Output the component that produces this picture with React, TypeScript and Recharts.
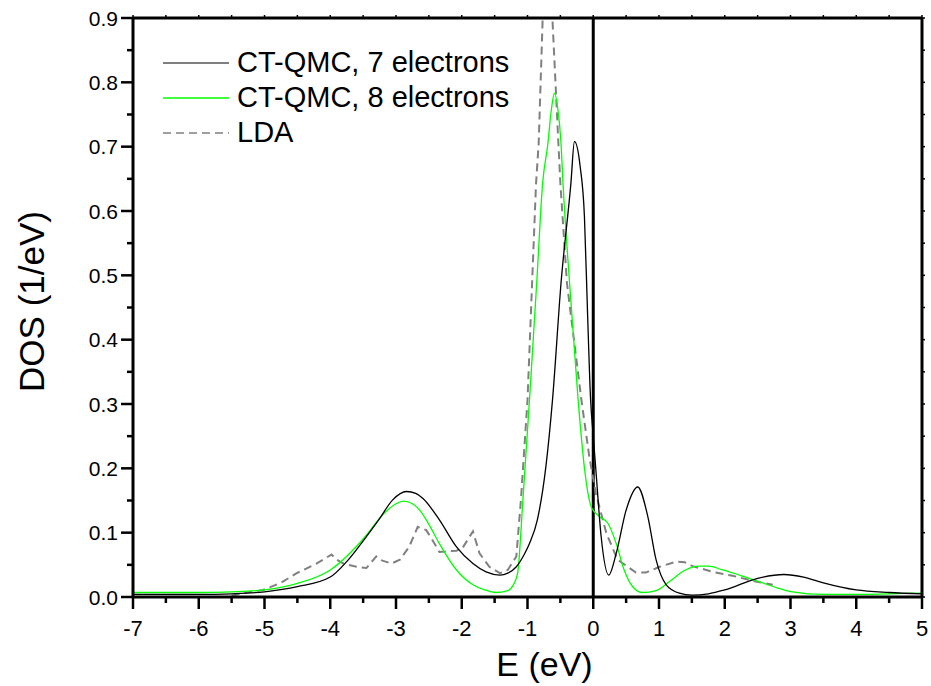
import { LineChart, Line, XAxis, YAxis, ReferenceLine, Legend } from "recharts";

// CT-QMC, 7 electrons
const e7 = [
  -7, -6, -5.5, -5, -4.5, -4, -3.75, -3.45, -3.25, -3.05,
  -2.84, -2.7, -2.59, -2.34, -2.08, -1.83, -1.63, -1.42, -1.3, -1.17,
  -1.05, -0.97, -0.85, -0.72, -0.62, -0.49, -0.34, -0.286, -0.2, -0.134,
  -0.085, -0.04, 0, 0.04, 0.12, 0.236, 0.35, 0.5, 0.677, 0.83,
  0.955, 1.11, 1.31, 1.5, 1.75, 2, 2.5, 2.9, 3.2, 3.5,
  4, 4.5, 5,
];
const dos7 = [
  0.004, 0.004, 0.005, 0.008, 0.016, 0.031, 0.055, 0.094, 0.122, 0.151,
  0.164, 0.161, 0.153, 0.12, 0.078, 0.052, 0.039, 0.034, 0.037, 0.047,
  0.066, 0.083, 0.12, 0.203, 0.306, 0.488, 0.643, 0.708, 0.67, 0.591,
  0.436, 0.306, 0.25, 0.197, 0.094, 0.034, 0.068, 0.135, 0.171, 0.125,
  0.058, 0.019, 0.006, 0.003, 0.005, 0.011, 0.029, 0.035, 0.031, 0.022,
  0.011, 0.007, 0.005,
];

// CT-QMC, 8 electrons
const e8 = [
  -7, -6, -5.5, -5, -4.5, -4, -3.45, -3.2, -3, -2.89,
  -2.75, -2.64, -2.5, -2.34, -2.08, -1.83, -1.65, -1.48, -1.3, -1.22,
  -1.15, -1.07, -0.97, -0.86, -0.77, -0.69, -0.64, -0.59, -0.54, -0.49,
  -0.46, -0.36, -0.23, -0.13, -0.03, 0.094, 0.22, 0.35, 0.47, 0.6,
  0.75, 0.955, 1.16, 1.4, 1.6, 1.75, 1.97, 2.37, 2.52, 2.8,
  3.03, 3.5, 4, 4.5, 5,
];
const dos8 = [
  0.007, 0.007, 0.008, 0.011, 0.021, 0.042, 0.096, 0.128, 0.145, 0.149,
  0.145, 0.135, 0.113, 0.083, 0.042, 0.019, 0.011, 0.007, 0.01, 0.018,
  0.037, 0.151, 0.306, 0.488, 0.643, 0.705, 0.755, 0.783, 0.76, 0.705,
  0.643, 0.488, 0.306, 0.197, 0.14, 0.125, 0.115, 0.083, 0.042, 0.016,
  0.007, 0.01, 0.024, 0.042, 0.048, 0.048, 0.042, 0.029, 0.024, 0.014,
  0.008, 0.004, 0.004, 0.005, 0.006,
];

// LDA
const eLda = [
  -5.5, -5.27, -5.02, -4.75, -4.51, -4.21, -3.98, -3.9, -3.8, -3.6,
  -3.45, -3.3, -3.25, -3.07, -2.94, -2.8, -2.67, -2.54, -2.46, -2.34,
  -2.08, -1.99, -1.83, -1.73, -1.58, -1.42, -1.3, -1.17, -1.1, -1,
  -0.93, -0.87, -0.83, -0.77, -0.7, -0.62, -0.53, -0.5, -0.4, -0.18,
  -0.06, 0.04, 0.2, 0.37, 0.65, 0.8, 1.01, 1.26, 1.39, 1.51,
  1.82, 2.12, 2.47, 2.73,
];
const dosLda = [
  0.002, 0.007, 0.011, 0.022, 0.037, 0.052, 0.066, 0.058, 0.052, 0.047,
  0.045, 0.063, 0.058, 0.052, 0.058, 0.078, 0.109, 0.104, 0.091, 0.07,
  0.072, 0.076, 0.102, 0.068, 0.047, 0.037, 0.042, 0.063, 0.151, 0.306,
  0.488, 0.643, 0.705, 0.897, 1.0, 0.897, 0.705, 0.643, 0.488, 0.306,
  0.218, 0.161, 0.099, 0.058, 0.038, 0.038, 0.047, 0.055, 0.054, 0.048,
  0.039, 0.033, 0.024, 0.019,
];

const xTicks = [
  -7, -6.5, -6, -5.5, -5, -4.5, -4, -3.5, -3, -2.5, -2, -1.5, -1, -0.5,
  0, 0.5, 1, 1.5, 2, 2.5, 3, 3.5, 4, 4.5, 5,
];
const yTicks = [
  0, 0.05, 0.1, 0.15, 0.2, 0.25, 0.3, 0.35, 0.4, 0.45,
  0.5, 0.55, 0.6, 0.65, 0.7, 0.75, 0.8, 0.85, 0.9,
];

const legendItems = [
  { name: "CT-QMC, 7 electrons", color: "#000000", dash: undefined, width: 1.2 },
  { name: "CT-QMC, 8 electrons", color: "#00ff00", dash: undefined, width: 1.5 },
  { name: "LDA", color: "#808080", dash: "8 5", width: 1.5 },
];

const FONT = '"Liberation Sans", Arial, sans-serif';

const toPoints = (es: number[], vs: number[]) =>
  es.map((e, i) => ({ e, v: vs[i] }));

const data7 = toPoints(e7, dos7);
const data8 = toPoints(e8, dos8);
const dataLda = toPoints(eLda, dosLda);

const isWhole = (v: number) => Math.abs(v - Math.round(v)) < 1e-6;
const isTenth = (v: number) => Math.abs(v * 10 - Math.round(v * 10)) < 1e-6;

const BottomTick = ({ x, y, payload }: any) => {
  const major = isWhole(payload.value);
  return (
    <g>
      <line x1={x} x2={x} y1={y} y2={y + (major ? 12 : 6)} stroke="#000" strokeWidth={2.5} />
      {major && (
        <text x={x} y={y + 39} textAnchor="middle" fontSize={22} fontFamily={FONT} fill="#000">
          {payload.value}
        </text>
      )}
    </g>
  );
};

const TopTick = ({ x, y }: any) => (
  <line x1={x} x2={x} y1={y} y2={y - 3} stroke="#000" strokeWidth={1.5} />
);

const LeftTick = ({ x, y, payload }: any) => {
  const major = isTenth(payload.value);
  return (
    <g>
      <line x1={x} x2={x - (major ? 12 : 6)} y1={y} y2={y} stroke="#000" strokeWidth={2.5} />
      {major && (
        <text x={x - 15} y={y + 7.5} textAnchor="end" fontSize={21} fontFamily={FONT} fill="#000">
          {payload.value.toFixed(1)}
        </text>
      )}
    </g>
  );
};

const RightTick = ({ x, y }: any) => (
  <line x1={x} x2={x + 3} y1={y} y2={y} stroke="#000" strokeWidth={1.5} />
);

const LegendBox = () => (
  <div style={{ fontFamily: FONT }}>
    {legendItems.map((item) => (
      <div key={item.name} style={{ display: "flex", alignItems: "center", height: 35 }}>
        <svg width={66} height={35} style={{ display: "block" }}>
          <line
            x1={0}
            x2={66}
            y1={18}
            y2={18}
            stroke={item.color}
            strokeWidth={item.width}
            strokeDasharray={item.dash}
          />
        </svg>
        <span style={{ marginLeft: 8, fontSize: 29, lineHeight: "35px", color: "#000", whiteSpace: "nowrap" }}>
          {item.name}
        </span>
      </div>
    ))}
  </div>
);

const App = () => {
  return (
    <div style={{ position: "absolute", left: 0, top: 0, background: "#fff" }}>
      <LineChart width={931} height={686} margin={{ top: 14, right: 5, bottom: 0, left: 0 }}>
        <XAxis
          dataKey="e"
          type="number"
          domain={[-7, 5]}
          ticks={xTicks}
          interval={0}
          allowDataOverflow
          height={89}
          tickSize={0}
          tickMargin={0}
          tick={<BottomTick />}
          axisLine={false}
          label={(props: any) => {
            const vb = props.viewBox;
            return (
              <text
                x={vb.x + vb.width / 2 + 17}
                y={vb.y + 79}
                textAnchor="middle"
                fontSize={34}
                fontFamily={FONT}
                fill="#000"
              >
                E (eV)
              </text>
            );
          }}
        />
        <XAxis
          xAxisId="top"
          orientation="top"
          dataKey="e"
          type="number"
          domain={[-7, 5]}
          ticks={xTicks}
          interval={0}
          allowDataOverflow
          height={4}
          tickSize={0}
          tickMargin={0}
          tick={<TopTick />}
          axisLine={false}
        />
        <YAxis
          type="number"
          domain={[0, 0.9]}
          ticks={yTicks}
          interval={0}
          allowDataOverflow
          width={133}
          tickSize={0}
          tickMargin={0}
          tick={<LeftTick />}
          axisLine={false}
          label={(props: any) => {
            const vb = props.viewBox;
            const cx = 44;
            const cy = vb.y + vb.height / 2 - 6;
            return (
              <text
                x={cx}
                y={cy}
                textAnchor="middle"
                fontSize={35}
                fontFamily={FONT}
                fill="#000"
                transform={`rotate(-90, ${cx}, ${cy})`}
              >
                DOS (1/eV)
              </text>
            );
          }}
        />
        <YAxis
          yAxisId="right"
          orientation="right"
          type="number"
          domain={[0, 0.9]}
          ticks={yTicks}
          interval={0}
          allowDataOverflow
          width={4}
          tickSize={0}
          tickMargin={0}
          tick={<RightTick />}
          axisLine={false}
        />
        <ReferenceLine x={0} stroke="#000" strokeWidth={3} />
        <Line
          data={dataLda}
          xAxisId="top"
          yAxisId="right"
          dataKey="v"
          name="LDA"
          type="linear"
          stroke="#808080"
          strokeWidth={2}
          strokeDasharray="8 5"
          dot={false}
          activeDot={false}
          isAnimationActive={false}
        />
        <Line
          data={data8}
          dataKey="v"
          name="CT-QMC, 8 electrons"
          type="monotone"
          stroke="#00ff00"
          strokeWidth={1.3}
          dot={false}
          activeDot={false}
          isAnimationActive={false}
        />
        <Line
          data={data7}
          dataKey="v"
          name="CT-QMC, 7 electrons"
          type="monotone"
          stroke="#000000"
          strokeWidth={1.3}
          dot={false}
          activeDot={false}
          isAnimationActive={false}
        />
        <ReferenceLine y={0} stroke="#000" strokeWidth={3} ifOverflow="visible" />
        <ReferenceLine y={0.9} stroke="#000" strokeWidth={3} ifOverflow="visible" />
        <ReferenceLine x={-7} stroke="#000" strokeWidth={3} ifOverflow="visible" />
        <ReferenceLine x={5} stroke="#000" strokeWidth={3} ifOverflow="visible" />
        <Legend
          layout="vertical"
          align="center"
          verticalAlign="middle"
          content={() => <LegendBox />}
          wrapperStyle={{ left: 163, top: 44.5, width: "auto" }}
        />
      </LineChart>
    </div>
  );
};

export default App;
